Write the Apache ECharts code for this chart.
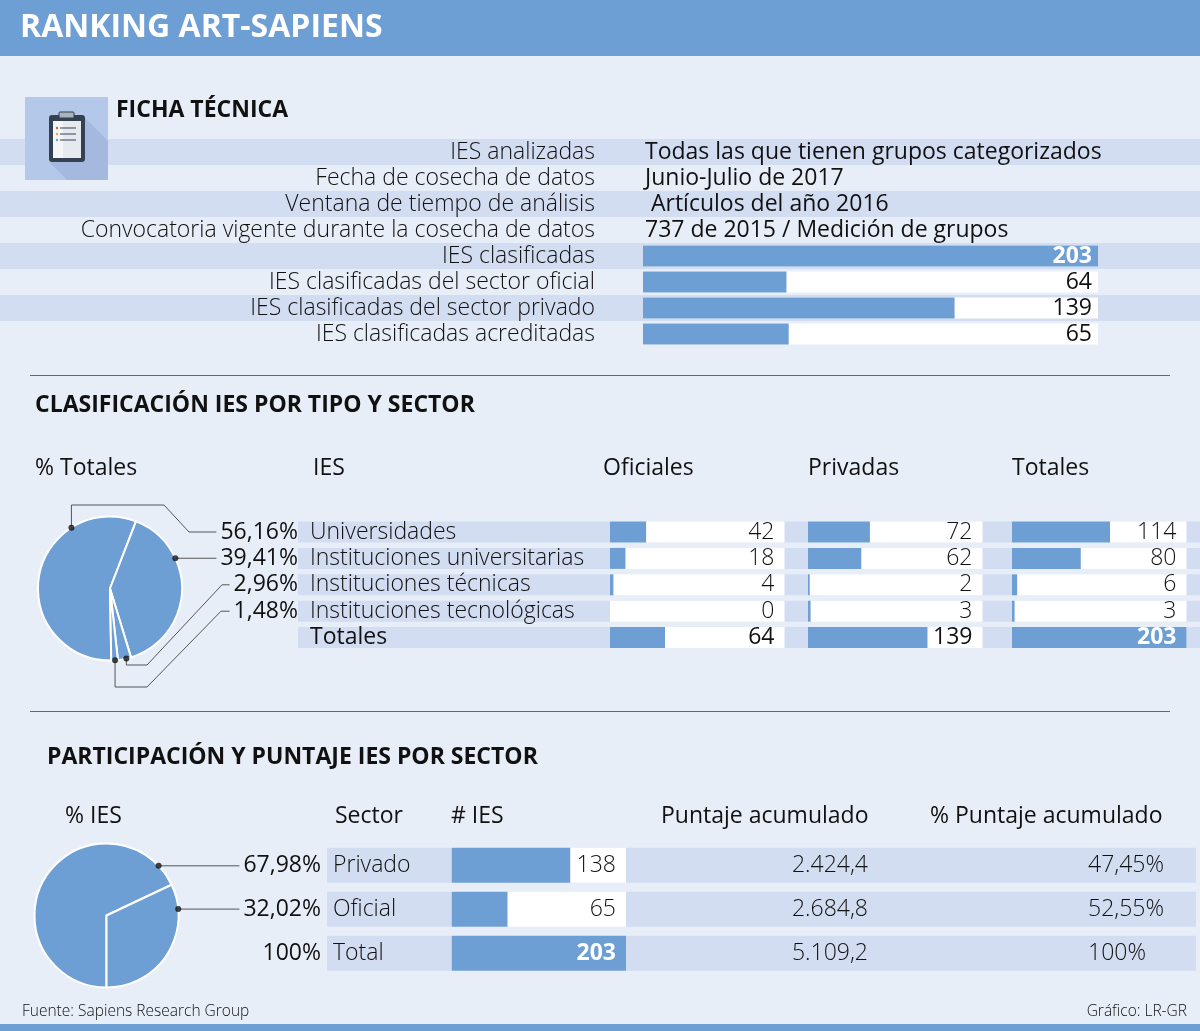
<!DOCTYPE html>
<html lang="es">
<head>
<meta charset="UTF-8" />
<title>Ranking Art-Sapiens</title>
<script src="https://cdn.jsdelivr.net/npm/echarts@6/dist/echarts.min.js"></script>
<style>
  html, body { margin: 0; padding: 0; background: #e8eef8; }
  #chart { width: 1200px; height: 1031px; }
</style>
</head>
<body>
<div id="chart"></div>
<script>
// ---- datos ----
var fichaLabels = [
  "IES analizadas",
  "Fecha de cosecha de datos",
  "Ventana de tiempo de análisis",
  "Convocatoria vigente durante la cosecha de datos",
  "IES clasificadas",
  "IES clasificadas del sector oficial",
  "IES clasificadas del sector privado",
  "IES clasificadas acreditadas"
];
var fichaTexts = [
  "Todas las que tienen grupos categorizados",
  "Junio-Julio de 2017",
  " Artículos del año 2016",
  "737 de 2015 / Medición de grupos"
];
var fichaCounts = [203, 64, 139, 65];

var tipoCategories = [
  "Universidades",
  "Instituciones universitarias",
  "Instituciones técnicas",
  "Instituciones tecnológicas",
  "Totales"
];
var tipoOficiales = [42, 18, 4, 0, 64];
var tipoPrivadas = [72, 62, 2, 3, 139];
var tipoTotales = [114, 80, 6, 3, 203];
var tipoColumns = ["Oficiales", "Privadas", "Totales"];

var sectorCategories = ["Privado", "Oficial", "Total"];
var sectorIes = [138, 65, 203];
var sectorPuntaje = [2424.4, 2684.8, 5109.2];
var sectorPctPuntaje = [47.45, 52.55, 100];

// ---- estilo / layout ----
var FONT = "'Open Sans', 'Noto Sans', sans-serif";
var BLUE = "#6d9fd4";
var STRIPE = "#d3ddf2";
var BG = "#e8eef8";
var INK = "#111";
var FS = 23;

var ficha = { y0: 152, pitch: 26, labelRight: 595, textLeft: 645, barLeft: 643, barW: 455, barH: 21 };
var tipo = { y0: 532, pitch: 26.4, bandLeft: 298, bandH: 21, nameLeft: 310, cols: [610, 808, 1012], headX: [603, 808, 1012], colW: 174.5 };
var sector = { y0: 865.3, pitch: 44, bandLeft: 327, bandRight: 1196, bandH: 35, nameLeft: 333, barLeft: 451.7, barW: 174.3 };

// pies: ángulo de inicio medido desde arriba en sentido horario
var pieTipo = {
  cx: 110, cy: 588.5, r: 72, start: 179, labelRight: 298,
  anchorFrac: [0.735, 0.31, 0.36, 0.43],
  via: [[[null, 505], [164, 505], [189, 532]], [], [[null, 665], [147, 665], [222, 584.8]], [[null, 687], [147, 687], [221, 611.2]]],
  rowY: function (i) { return tipo.y0 + i * tipo.pitch; }
};
var pieSector = {
  cx: 106.5, cy: 915.5, r: 72, start: 180, labelRight: 321,
  anchorFrac: [0.925, 0.175],
  via: [[], []],
  rowY: function (i) { return sector.y0 + i * sector.pitch; }
};

function fmtNum(n, dec) {
  var parts = n.toFixed(dec).split(".");
  parts[0] = parts[0].replace(/\B(?=(\d{3})+(?!\d))/g, ".");
  return parts.join(",");
}
function fmtPct(n) {
  return (Math.round(n) === n ? String(n) : fmtNum(n, 2)) + "%";
}
function sum(arr) { return arr.reduce(function (a, b) { return a + b; }, 0); }

function anchorAngles(pie, values) {
  var total = sum(values), cum = 0;
  return values.map(function (v, i) {
    var a = pie.start + (cum + pie.anchorFrac[i] * v) / total * 360;
    cum += v;
    return a % 360;
  });
}

function txt(x, y, s, size, weight, align, color) {
  return {
    type: "text", x: x, y: y, silent: true,
    style: {
      text: s, fontSize: size, fontFamily: FONT, fontWeight: weight,
      fill: color || INK, align: align || "left", verticalAlign: "middle",
      textAlign: align || "left", textVerticalAlign: "middle"
    }
  };
}
function rect(x, y, w, h, fill) {
  return { type: "rect", silent: true, shape: { x: x, y: y, width: w, height: h }, style: { fill: fill } };
}
function hline(x1, x2, y, color) {
  return { type: "line", silent: true, shape: { x1: x1, y1: y, x2: x2, y2: y }, style: { stroke: color, lineWidth: 1 } };
}

// ---- graphic: fondos y textos ----
var g = [];
g.push(rect(0, 0, 1200, 56, BLUE));
g.push(txt(20, 28, "RANKING ART-SAPIENS", 32, "bold", "left", "#fff"));

// ficha técnica
fichaLabels.forEach(function (s, i) {
  var y = ficha.y0 + i * ficha.pitch;
  if (i % 2 === 0) g.push(rect(0, y - ficha.pitch / 2, 1200, ficha.pitch, STRIPE));
});
// icono
g.push(rect(25, 97, 83, 83, "#b4c8ea"));
g.push({ type: "polygon", silent: true, shape: { points: [[85, 118], [108, 141], [108, 180], [67, 180], [49, 162], [85, 162]] }, style: { fill: "#a5b9de" } });
g.push({ type: "rect", silent: true, shape: { x: 49, y: 115, width: 36, height: 47, r: 3 }, style: { fill: "#344152" } });
g.push(rect(53, 121, 28, 37, "#e6eaee"));
g.push(rect(53, 121, 10, 37, "#f3f5f7"));
g.push({ type: "rect", silent: true, shape: { x: 59, y: 112, width: 15, height: 6, r: 1 }, style: { fill: "#a9b1ba", stroke: "#344152", lineWidth: 1 } });
["#e0584a", "#f0a830", "#6d9fd4"].forEach(function (c, i) {
  var y = 128 + i * 6;
  g.push({ type: "circle", silent: true, shape: { cx: 57, cy: y, r: 1.2 }, style: { fill: c } });
  g.push(hline(60, 76, y, "#344152"));
});
g.push(txt(116, 110, "FICHA TÉCNICA", 23, "bold"));
fichaLabels.forEach(function (s, i) {
  g.push(txt(ficha.labelRight, ficha.y0 + i * ficha.pitch, s, FS, 300, "right"));
});
fichaTexts.forEach(function (s, i) {
  g.push(txt(ficha.textLeft, ficha.y0 + i * ficha.pitch, s, FS, 400, "left"));
});

g.push(hline(30, 1170, 375.5, "#666"));

// clasificación
g.push(txt(35, 405, "CLASIFICACIÓN IES POR TIPO Y SECTOR", 23, "bold"));
g.push(txt(35, 468, "% Totales", FS, 400));
g.push(txt(313, 468, "IES", FS, 400));
tipoColumns.forEach(function (s, i) { g.push(txt(tipo.headX[i], 468, s, FS, 400)); });
tipoCategories.forEach(function (s, i) {
  var y = tipo.y0 + i * tipo.pitch;
  g.push(rect(tipo.bandLeft, y - tipo.bandH / 2, 1200 - tipo.bandLeft, tipo.bandH, STRIPE));
  g.push(txt(tipo.nameLeft, y, s, FS, i === tipoCategories.length - 1 ? 400 : 300));
});

g.push(hline(30, 1170, 711.5, "#666"));

// participación
g.push(txt(47, 757, "PARTICIPACIÓN Y PUNTAJE IES POR SECTOR", 23, "bold"));
g.push(txt(65, 816, "% IES", FS, 400));
g.push(txt(335, 816, "Sector", FS, 400));
g.push(txt(451, 816, "# IES", FS, 400));
g.push(txt(661, 816, "Puntaje acumulado", FS, 400));
g.push(txt(930, 816, "% Puntaje acumulado", FS, 400));
sectorCategories.forEach(function (s, i) {
  var y = sector.y0 + i * sector.pitch;
  g.push(rect(sector.bandLeft, y - sector.bandH / 2, sector.bandRight - sector.bandLeft, sector.bandH, STRIPE));
  g.push(txt(sector.nameLeft, y, s, FS, 300));
  g.push(txt(868, y, fmtNum(sectorPuntaje[i], 1), FS, 300, "right"));
  g.push(txt(1088, y, fmtPct(sectorPctPuntaje[i]), FS, 300));
});
g.push(txt(pieSector.labelRight, sector.y0 + 2 * sector.pitch, fmtPct(100), FS, 400, "right"));

// pie de página
g.push(txt(22, 1012, "Fuente: Sapiens Research Group", 15.5, 300));
g.push(txt(1187, 1012, "Gráfico: LR-GR", 15.5, 300, "right"));
g.push(rect(0, 1024, 1200, 7, BLUE));

// ---- grids y barras ----
var grids = [], xAxes = [], yAxes = [], series = [];

function addBarBlock(left, top, width, height, cats, values, max, barH, dist, styleFn) {
  var gi = grids.length;
  grids.push({ left: left, top: top, width: width, height: height });
  xAxes.push({ gridIndex: gi, type: "value", min: 0, max: max, show: false });
  yAxes.push({ gridIndex: gi, type: "category", data: cats, inverse: true, show: false });
  var common = { type: "bar", xAxisIndex: gi, yAxisIndex: gi, barWidth: barH, barGap: "-100%", animation: false, silent: true };
  // pista blanca
  series.push(Object.assign({}, common, {
    data: values.map(function () { return max; }),
    itemStyle: { color: "#fff" }
  }));
  // valor
  series.push(Object.assign({}, common, {
    data: values,
    itemStyle: { color: BLUE }
  }));
  // etiqueta al final de la pista
  series.push(Object.assign({}, common, {
    data: values.map(function (v, i) {
      var st = styleFn(i);
      return { value: max, label: { color: st.color, fontWeight: st.weight } };
    }),
    itemStyle: { color: "rgba(0,0,0,0)" },
    label: {
      show: true, position: "insideRight", distance: dist,
      fontFamily: FONT, fontSize: FS,
      formatter: function (p) { return String(values[p.dataIndex]); }
    }
  }));
}

var fichaMax = Math.max.apply(null, fichaCounts);
addBarBlock(ficha.barLeft, ficha.y0 + 4 * ficha.pitch - ficha.pitch / 2, ficha.barW, 4 * ficha.pitch,
  fichaLabels.slice(4), fichaCounts, fichaMax, ficha.barH, 6,
  function (i) { return i === 0 ? { color: "#fff", weight: "bold" } : { color: INK, weight: 400 }; });

var tipoMax = Math.max.apply(null, tipoTotales);
[tipoOficiales, tipoPrivadas, tipoTotales].forEach(function (vals, c) {
  addBarBlock(tipo.cols[c], tipo.y0 - tipo.pitch / 2, tipo.colW, tipoCategories.length * tipo.pitch,
    tipoCategories, vals, tipoMax, tipo.bandH, 10,
    function (i) {
      var last = i === tipoCategories.length - 1;
      if (last && c === 2) return { color: "#fff", weight: "bold" };
      return { color: INK, weight: last ? 400 : 300 };
    });
});

var sectorMax = Math.max.apply(null, sectorIes);
addBarBlock(sector.barLeft, sector.y0 - sector.pitch / 2, sector.barW, sectorCategories.length * sector.pitch,
  sectorCategories, sectorIes, sectorMax, sector.bandH, 10,
  function (i) { return i === 2 ? { color: "#fff", weight: "bold" } : { color: INK, weight: 300 }; });

// ---- pies ----
function leaderLayout(pie, angles) {
  return function (params) {
    var i = params.dataIndex;
    var t = angles[i] * Math.PI / 180;
    var ax = pie.cx + pie.r * Math.sin(t), ay = pie.cy - pie.r * Math.cos(t);
    var pts = [[ax, ay]];
    pie.via[i].forEach(function (p) { pts.push([p[0] == null ? ax : p[0], p[1]]); });
    var last = pts[pts.length - 1];
    var left = pie.labelRight - params.labelRect.width;
    pts.push([left - 4, last[1]]);
    return { x: pie.labelRight, y: pie.rowY(i), align: "right", verticalAlign: "middle", labelLinePoints: pts };
  };
}

function addPie(pie, names, values, polarIndex) {
  var total = sum(values);
  var angles = anchorAngles(pie, values);
  series.push({
    type: "pie", center: [pie.cx, pie.cy], radius: pie.r,
    startAngle: 90 - pie.start, clockwise: true, avoidLabelOverlap: false,
    animation: false, silent: true,
    data: names.map(function (n, i) { return { name: n, value: values[i] }; }),
    itemStyle: { color: BLUE, borderColor: "#fff", borderWidth: 2 },
    label: {
      show: true, position: "outside", fontFamily: FONT, fontSize: FS, color: INK, fontWeight: 400,
      formatter: function (p) { return fmtNum(values[p.dataIndex] / total * 100, 2) + "%"; }
    },
    labelLine: { show: true, length: 5, length2: 5, lineStyle: { color: "#555", width: 1 } },
    labelLayout: leaderLayout(pie, angles)
  });
  series.push({
    type: "scatter", coordinateSystem: "polar", polarIndex: polarIndex,
    data: angles.map(function (a) { return [1, a]; }),
    symbolSize: 6, itemStyle: { color: "#111" }, z: 5, silent: true, animation: false
  });
}

var polars = [
  { center: [pieTipo.cx, pieTipo.cy], radius: pieTipo.r },
  { center: [pieSector.cx, pieSector.cy], radius: pieSector.r }
];
var angleAxes = [0, 1].map(function (k) {
  return { polarIndex: k, type: "value", min: 0, max: 360, startAngle: 90, clockwise: true, show: false };
});
var radiusAxes = [0, 1].map(function (k) {
  return { polarIndex: k, type: "value", min: 0, max: 1, show: false };
});

addPie(pieTipo, tipoCategories.slice(0, 4), tipoTotales.slice(0, 4), 0);
addPie(pieSector, sectorCategories.slice(0, 2), sectorIes.slice(0, 2), 1);

var chart = echarts.init(document.getElementById("chart"));
chart.setOption({
  backgroundColor: BG,
  animation: false,
  graphic: { elements: g },
  grid: grids,
  xAxis: xAxes,
  yAxis: yAxes,
  polar: polars,
  angleAxis: angleAxes,
  radiusAxis: radiusAxes,
  tooltip: { show: false },
  series: series
});
</script>
</body>
</html>
